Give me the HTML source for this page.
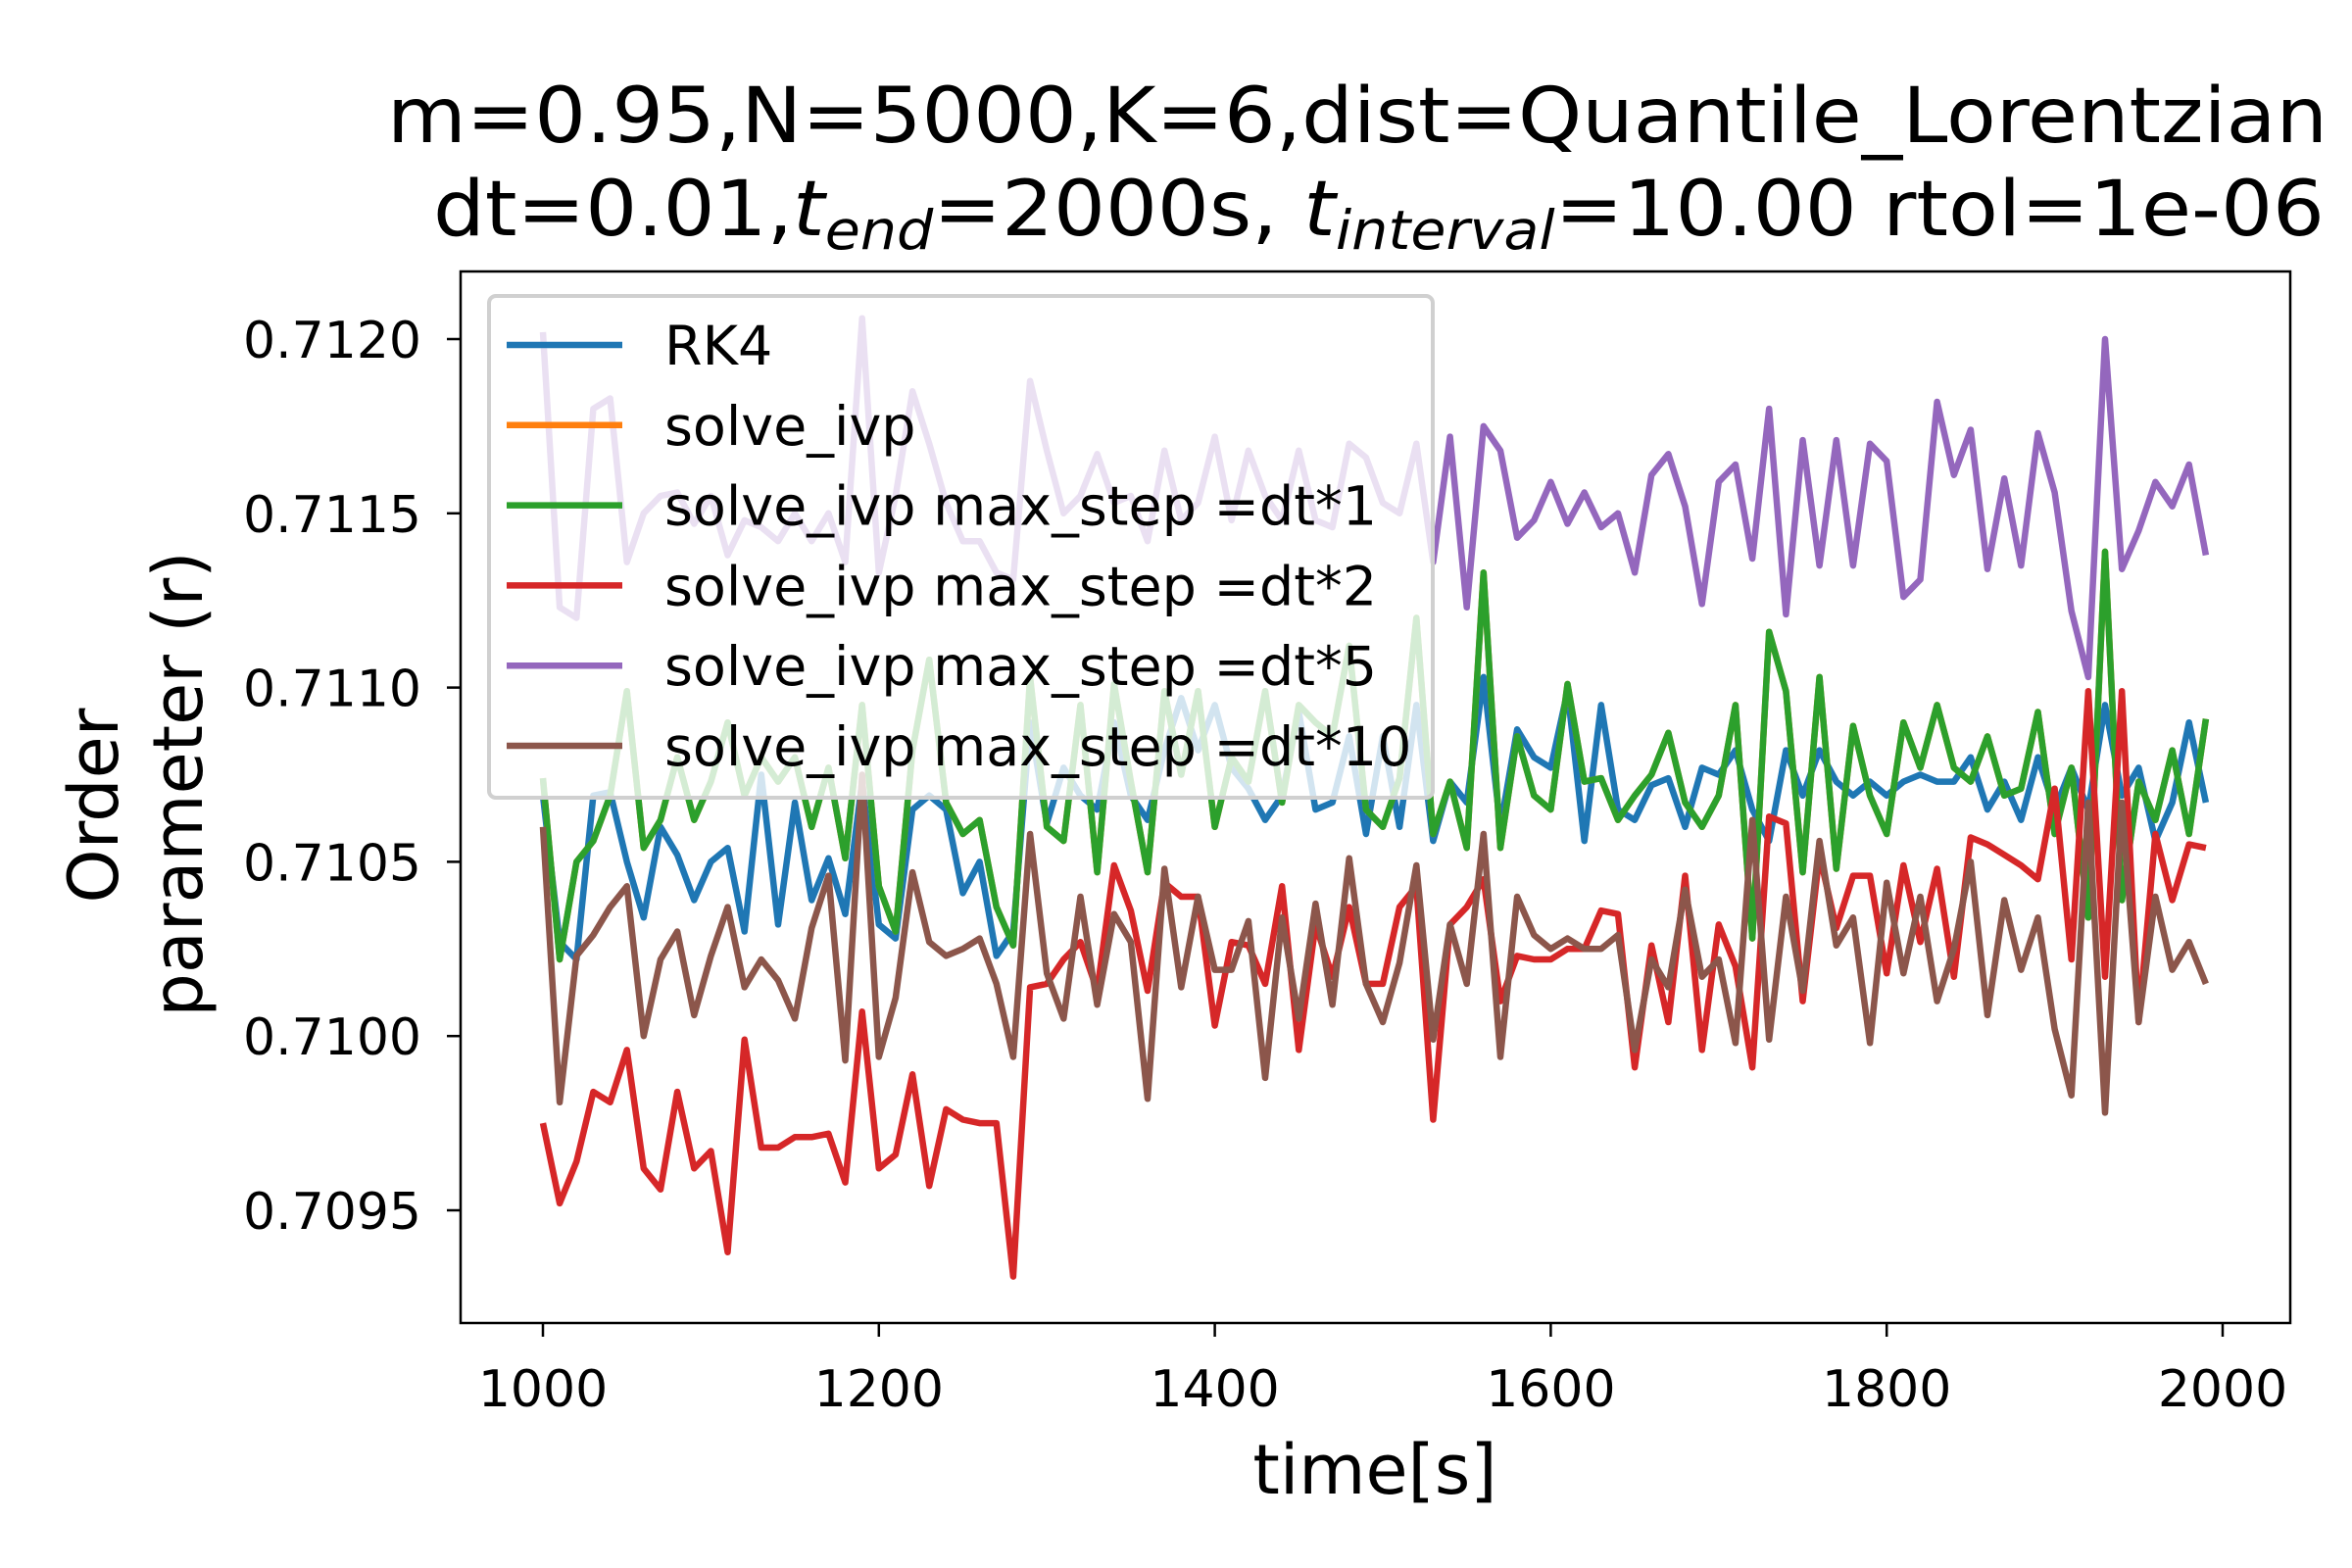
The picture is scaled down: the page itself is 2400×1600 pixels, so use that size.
<!DOCTYPE html>
<html><head><meta charset="utf-8"><style>
html,body{margin:0;padding:0;background:#fff;}
svg{display:block;font-family:"DejaVu Sans","Liberation Sans",sans-serif;}
</style></head><body>
<svg id="chart" width="2400" height="1600" viewBox="0 0 2400 1600" xmlns="http://www.w3.org/2000/svg">
<rect width="2400" height="1600" fill="#fff"/>
<g id="plot"></g>
<rect x="470" y="277" width="1867" height="1073" fill="none" stroke="#000" stroke-width="2.5"/>
<g id="ticks"></g>
<text x="1385" y="145" font-size="78" text-anchor="middle" textLength="1980" lengthAdjust="spacingAndGlyphs">m=0.95,N=5000,K=6,dist=Quantile_Lorentzian</text>
<text x="1407" y="240" font-size="78" text-anchor="middle" textLength="1930" lengthAdjust="spacingAndGlyphs">dt=0.01,<tspan font-style="italic">t</tspan><tspan font-size="55" font-style="italic" dy="14">end</tspan><tspan dy="-14">=2000s, </tspan><tspan font-style="italic">t</tspan><tspan font-size="55" font-style="italic" dy="14">interval</tspan><tspan dy="-14">=10.00 rtol=1e-06</tspan></text>
<text x="1403" y="1524" font-size="70" text-anchor="middle">time[s]</text>
<g font-size="70" text-anchor="middle">
<text x="0" y="0" transform="translate(120,822) rotate(-90)">Order</text>
<text x="0" y="0" transform="translate(206,800) rotate(-90)">parameter (r)</text>
</g>
<g id="legend"></g>
</svg>
<script>
const times = Array.from({length:100},(_,i)=>1000+10*i);
const rk4 = [6.9,2.7,2.2,6.9,7,5,3.4,6,5.2,3.9,5,5.4,3,7.5,3.2,6.7,3.9,5.1,3.5,7.3,3.2,2.8,6.5,6.9,6.5,4.1,5,2.3,3,9,6.1,7.7,6.9,6.5,9,6.9,6.2,8.2,9.7,8.2,9.5,7.7,7.1,6.2,6.9,9.3,6.5,6.7,8.6,5.8,8.6,6,9.5,5.6,7.3,6.7,10.3,6,8.8,8,7.7,9.9,5.6,9.5,6.5,6.2,7.2,7.4,6,7.7,7.5,8.2,6.5,5.6,8.2,6.9,8.2,7.3,6.9,7.3,6.9,7.3,7.5,7.3,7.3,8,6.5,7.3,6.2,8,6.5,7.7,6.5,9.5,6.9,7.7,5.6,6.7,9,6.7];
const dt1 = [7.4,2.2,5,5.6,6.9,9.9,5.4,6.2,8,6.2,7.3,9,6.9,8,7.3,8,6,7.7,5.1,9.5,4.3,3,8.2,10.8,6.7,5.8,6.2,3.7,2.6,10.3,6,5.6,9.5,4.7,10.1,7.3,4.7,9.9,7.5,9.9,6,8,7.3,9.9,6.7,9.5,9,8.6,11.2,6.5,6,7.4,12,5.8,7.3,5.4,13.3,5.4,8.6,6.9,6.5,10.1,7.3,7.4,6.2,6.9,7.5,8.7,6.7,6,6.9,9.5,2.8,11.6,9.9,4.7,10.3,4.8,8.9,6.9,5.8,9,7.7,9.5,7.7,7.3,8.6,6.9,7.1,9.3,5.8,7.7,3.4,13.9,3.9,7.3,6.2,8.2,5.8,9.1];
const ivp = dt1.slice();
const dt2 = [-2.5,-4.8,-3.6,-1.6,-1.9,-0.4,-3.8,-4.4,-1.6,-3.8,-3.3,-6.2,-0.1,-3.2,-3.2,-2.9,-2.9,-2.8,-4.2,0.7,-3.8,-3.4,-1.1,-4.3,-2.1,-2.4,-2.5,-2.5,-6.9,1.4,1.5,2.2,2.7,1.3,4.9,3.6,1.3,4.4,4,4,0.3,2.7,2.6,1.5,4.3,-0.4,3.2,1.7,3.7,1.5,1.5,3.7,4.3,-2.4,3.2,3.7,4.5,1,2.3,2.2,2.2,2.5,2.5,3.6,3.5,-0.9,2.6,0.4,4.6,-0.4,3.2,2,-0.9,6.3,6.1,1,5.2,3.1,4.6,4.6,1.8,4.9,2.7,4.8,1.7,5.7,5.5,5.2,4.9,4.5,7.1,2.2,9.9,1.7,9.9,0.4,5.8,3.9,5.5,5.4];
const dt5 = [20.2,12.3,12,18,18.3,13.6,15,15.5,15.6,14.7,15.5,13.8,14.8,14.6,14.2,15,14.2,15,13.6,20.6,13.3,15.5,18.5,17,15.3,14.2,14.2,13.3,13.1,18.8,16.8,15,15.5,16.7,15.3,15.5,14.2,16.8,14.8,15.3,17.2,14.8,16.8,15.5,14.8,16.8,14.8,14.6,17,16.6,15.3,15,17,13.6,17.2,12.3,17.5,16.8,14.3,14.8,15.9,14.7,15.6,14.6,15,13.3,16.1,16.7,15.2,12.4,15.9,16.4,13.7,18,12.1,17.1,13.5,17.1,13.5,17,16.5,12.6,13.1,18.2,16.1,17.4,13.4,16,13.5,17.3,15.6,12.2,10.3,20,13.4,14.5,15.9,15.2,16.4,13.8];
const dt10 = [6,-1.9,2.3,2.9,3.7,4.3,0,2.2,3,0.6,2.3,3.7,1.4,2.2,1.6,0.5,3.1,4.6,-0.7,7.5,-0.6,1.1,4.7,2.7,2.3,2.5,2.8,1.5,-0.6,5.8,1.8,0.5,4,0.9,3.5,2.7,-1.8,4.8,1.4,4,1.9,1.9,3.3,-1.2,3.4,0.5,3.8,0.9,5.1,1.5,0.4,2.1,4.9,-0.1,3.2,1.5,5.8,-0.6,4,2.9,2.5,2.8,2.5,2.5,2.9,-0.4,2.2,1.4,4.2,1.7,2.2,-0.2,6.2,-0.1,4,1.3,5.6,2.6,3.4,-0.2,4.4,1.8,4,1,2.5,5,0.6,3.9,1.9,3.4,0.2,-1.7,6.7,-2.2,6.7,0.4,4,1.9,2.7,1.5];
const xTicks = [1000,1200,1400,1600,1800,2000];
const yTicks = [0.7095,0.7100,0.7105,0.7110,0.7115,0.7120];
const yTickLabels = ["0.7095","0.7100","0.7105","0.7110","0.7115","0.7120"];
const seriesNames = ["RK4","solve_ivp","solve_ivp max_step =dt*1","solve_ivp max_step =dt*2","solve_ivp max_step =dt*5","solve_ivp max_step =dt*10"];

const NS="http://www.w3.org/2000/svg";
function xs(t){return 554+(t-1000)*(2268-554)/1000;}
function ys(v){return 346+(0.7120-v)*(1235-346)/0.0025;}
function val(d){return 0.71+d*1e-4;}
const plot=document.getElementById('plot');
const series=[[rk4,'#1f77b4','series-rk4'],[ivp,'#ff7f0e','series-solve-ivp'],[dt1,'#2ca02c','series-dt1'],[dt2,'#d62728','series-dt2'],[dt5,'#9467bd','series-dt5'],[dt10,'#8c564b','series-dt10']];
series.forEach(s=>{
  const p=document.createElementNS(NS,'polyline');
  p.setAttribute('points',s[0].map((d,i)=>xs(times[i]).toFixed(1)+','+ys(val(d)).toFixed(1)).join(' '));
  p.setAttribute('fill','none');p.setAttribute('stroke',s[1]);p.setAttribute('stroke-width','6.5');
  p.setAttribute('stroke-linejoin','round');
  
  
  plot.appendChild(p);
});
const tk=document.getElementById('ticks');
xTicks.forEach(t=>{
  const x=xs(t);
  const l=document.createElementNS(NS,'line');
  l.setAttribute('x1',x);l.setAttribute('x2',x);l.setAttribute('y1',1350);l.setAttribute('y2',1364);l.setAttribute('stroke','#000');l.setAttribute('stroke-width','2.5');
  
  
  tk.appendChild(l);
  const tx=document.createElementNS(NS,'text');
  tx.setAttribute('x',x);tx.setAttribute('y',1435);tx.setAttribute('font-size','52');tx.setAttribute('text-anchor','middle');
  tx.textContent=t;
  
  
  tk.appendChild(tx);
});
yTicks.forEach((v,i)=>{
  const y=ys(v);
  const l=document.createElementNS(NS,'line');
  l.setAttribute('x1',456);l.setAttribute('x2',470);l.setAttribute('y1',y);l.setAttribute('y2',y);l.setAttribute('stroke','#000');l.setAttribute('stroke-width','2.5');
  
  
  tk.appendChild(l);
  const tx=document.createElementNS(NS,'text');
  tx.setAttribute('x',430);tx.setAttribute('y',y+19);tx.setAttribute('font-size','52');tx.setAttribute('text-anchor','end');
  tx.textContent=yTickLabels[i];
  
  
  tk.appendChild(tx);
});
const lg=document.getElementById('legend');
const box=document.createElementNS(NS,'rect');
box.setAttribute('x',499);box.setAttribute('y',302);box.setAttribute('width',963);box.setAttribute('height',512);box.setAttribute('rx',7);
box.setAttribute('fill','rgba(255,255,255,0.8)');box.setAttribute('stroke','#d0d0d0');box.setAttribute('stroke-width','4');


lg.appendChild(box);
seriesNames.forEach((n,i)=>{
  const y=352+i*81.8;
  const l=document.createElementNS(NS,'line');
  l.setAttribute('x1',517);l.setAttribute('x2',635);l.setAttribute('y1',y);l.setAttribute('y2',y);l.setAttribute('stroke',series[i][1]);l.setAttribute('stroke-width','6.5');
  
  
  lg.appendChild(l);
  const tx=document.createElementNS(NS,'text');
  tx.setAttribute('x',678);tx.setAttribute('y',y+20);tx.setAttribute('font-size','55.5');
  tx.textContent=n;
  
  
  lg.appendChild(tx);
});
</script>
</body></html>
